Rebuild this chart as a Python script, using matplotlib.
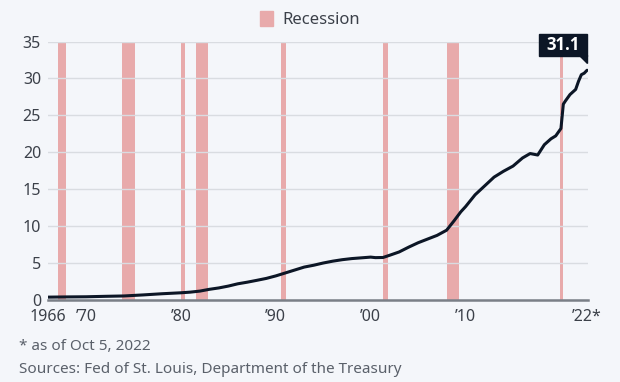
import matplotlib
matplotlib.use("Agg")
import matplotlib.pyplot as plt
import matplotlib.patches as mpatches
import matplotlib.transforms as mtransforms

# --- data (US federal debt, trillion USD) ---
years = [1966.0, 1968.0, 1970.0, 1972.0, 1974.0, 1976.0, 1978.0, 1980.0, 1981.0,
         1982.0, 1983.0, 1984.0, 1985.0, 1986.0, 1987.0, 1988.0, 1989.0, 1990.0,
         1991.0, 1992.0, 1993.0, 1994.0, 1995.0, 1996.0, 1997.0, 1998.0, 1999.0,
         2000.0, 2000.5, 2001.3, 2002.0, 2003.0, 2004.0, 2005.0, 2006.0, 2007.0,
         2008.0, 2008.8, 2009.5, 2010.0, 2011.0, 2012.0, 2013.0, 2014.0, 2015.0,
         2016.0, 2016.8, 2017.6, 2018.3, 2019.0, 2019.5, 2020.05, 2020.3, 2020.5,
         2021.0, 2021.6, 2021.9, 2022.2, 2022.5, 2022.8]
debt = [0.32, 0.35, 0.37, 0.43, 0.48, 0.62, 0.78, 0.91, 1.0,
        1.14, 1.38, 1.57, 1.82, 2.13, 2.35, 2.6, 2.86, 3.2,
        3.6, 4.0, 4.4, 4.65, 4.95, 5.2, 5.4, 5.55, 5.65,
        5.75, 5.68, 5.7, 6.0, 6.45, 7.1, 7.7, 8.2, 8.7,
        9.4, 10.7, 11.9, 12.6, 14.2, 15.4, 16.6, 17.4, 18.1,
        19.2, 19.8, 19.6, 21.0, 21.8, 22.2, 23.2, 26.5, 26.9,
        27.8, 28.5, 29.6, 30.5, 30.7, 31.1]

rec_start = [1967.1, 1973.8, 1980.0, 1981.6, 1990.55, 2001.25, 2008.0, 2019.9]
rec_end = [1967.9, 1975.15, 1980.4, 1982.9, 1991.1, 2001.8, 2009.35, 2020.25]

tick_years = [1966, 1970, 1980, 1990, 2000, 2010, 2022]
tick_labels = ["1966", "\u201970", "\u201980", "\u201990", "\u201900", "\u201910", "\u201922*"]
yticks = [0, 5, 10, 15, 20, 25, 30, 35]

BG = "#f4f6fa"
REC = "#e8aaab"
LINE = "#0c1626"
TXT = "#3b4049"

plt.rcParams['font.family'] = ['Noto Sans', 'DejaVu Sans']

fig = plt.figure(figsize=(6.2, 3.82), dpi=100, facecolor=BG)
ax = fig.add_axes([48 / 620, 82.5 / 382, 540 / 620, 258 / 382])
ax.set_facecolor(BG)

for s, e in zip(rec_start, rec_end):
    ax.axvspan(s, e, color=REC, lw=0, zorder=1)

ax.plot(years, debt, color=LINE, lw=2.2, zorder=3, solid_capstyle='round')

ax.set_xlim(1966.0, 2022.9)
ax.set_ylim(0, 35)
ax.set_yticks(yticks)
ax.set_xticks(tick_years)
ax.set_xticklabels(tick_labels)
ax.grid(axis='y', color='#d9dce1', lw=1, zorder=0)
ax.tick_params(axis='both', length=0, labelsize=11.5, labelcolor=TXT)
ax.tick_params(axis='y', pad=5)
ax.tick_params(axis='x', pad=6.5)
for side in ['top', 'right', 'left']:
    ax.spines[side].set_visible(False)
ax.spines['bottom'].set_color('#7a7f87')
ax.spines['bottom'].set_linewidth(1.8)
ax.spines['bottom'].set_zorder(4)

# shift the last tick label so "'22" sits on the tick and "*" hangs right
last = ax.get_xticklabels()[-1]
last.set_transform(last.get_transform() + mtransforms.ScaledTranslation(7 / 100, 0, fig.dpi_scale_trans))

# value callout at last point
px, py = ax.transData.transform((years[-1], debt[-1]))
ident = mtransforms.IdentityTransform()
bw, bh, gap = 48, 22, 14
box = mpatches.Rectangle((px - bw, py + gap), bw, bh, transform=ident,
                         color=LINE, clip_on=False, zorder=5)
tail = mpatches.Polygon([(px - 8, py + gap + 1), (px, py + gap + 1), (px, py + 7)],
                        closed=True, transform=ident, color=LINE, clip_on=False, zorder=5)
fig.add_artist(box)
fig.add_artist(tail)
fig.text((px - bw / 2) / 620, (py + gap + bh / 2) / 382, f"{debt[-1]:.1f}",
         color='white', fontsize=12, fontweight='bold', family=['Open Sans', 'DejaVu Sans'],
         ha='center', va='center', zorder=6)

# legend
handle = mpatches.Patch(color=REC, label='Recession')
fig.legend(handles=[handle], loc='upper center', bbox_to_anchor=(0.5, 1.01), frameon=False,
           fontsize=12, handlelength=0.75, handleheight=0.95, handletextpad=0.55,
           labelcolor=TXT)

fig.text(19 / 620, 1 - 350 / 382, "* as of Oct 5, 2022", fontsize=11, color='#5a606a', va='baseline')
fig.text(19 / 620, 1 - 373 / 382, "Sources: Fed of St. Louis, Department of the Treasury",
         fontsize=11, color='#5a606a', va='baseline')

fig.savefig("out.png", dpi=100, facecolor=BG)
